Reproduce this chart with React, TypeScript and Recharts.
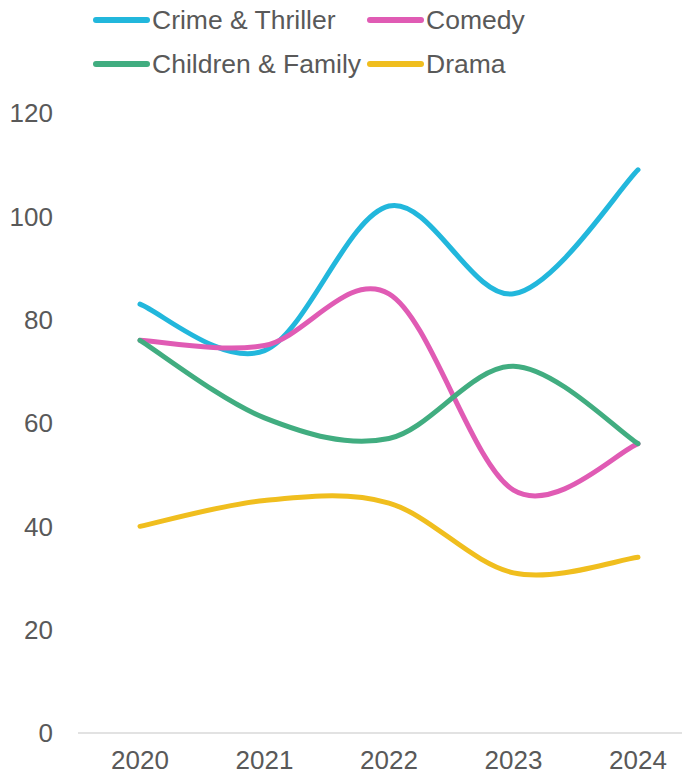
import React from "react";
import { LineChart, Line, XAxis, YAxis, Legend } from "recharts";

const years = ["2020", "2021", "2022", "2023", "2024"];
const crimeThriller = [83, 74, 102, 85, 109];
const comedy = [76, 75, 85, 47, 56];
const childrenFamily = [76, 61, 57, 71, 56];
const drama = [40, 45, 44.5, 31, 34];
const yTicks = [0, 20, 40, 60, 80, 100, 120];

const series = [
  { key: "crime", name: "Crime & Thriller", color: "#22B7DC", values: crimeThriller },
  { key: "comedy", name: "Comedy", color: "#E05BB4", values: comedy },
  { key: "children", name: "Children & Family", color: "#41AD80", values: childrenFamily },
  { key: "drama", name: "Drama", color: "#F0BE1E", values: drama },
];

const data = years.map((year, i) => {
  const row: Record<string, string | number> = { year };
  series.forEach((s) => (row[s.key] = s.values[i]));
  return row;
});

const FONT = "'Liberation Sans', Arial, sans-serif";
const TEXT = "#595959";

// Catmull-Rom style smoothing, close to what spreadsheet "smoothed lines" draw
const smoothCurve = (context: any) => {
  let pts: number[][] = [];
  return {
    areaStart() {},
    areaEnd() {},
    lineStart() {
      pts = [];
    },
    point(x: number, y: number) {
      pts.push([+x, +y]);
    },
    lineEnd() {
      const n = pts.length;
      if (!n) return;
      context.moveTo(pts[0][0], pts[0][1]);
      for (let i = 0; i < n - 1; i++) {
        const p0 = pts[Math.max(i - 1, 0)];
        const p1 = pts[i];
        const p2 = pts[i + 1];
        const p3 = pts[Math.min(i + 2, n - 1)];
        context.bezierCurveTo(
          p1[0] + (p2[0] - p0[0]) / 6,
          p1[1] + (p2[1] - p0[1]) / 6,
          p2[0] - (p3[0] - p1[0]) / 6,
          p2[1] - (p3[1] - p1[1]) / 6,
          p2[0],
          p2[1]
        );
      }
    },
  };
};

const LegendContent = () => (
  <div
    style={{
      height: 88,
      width: 600,
      display: "grid",
      gridTemplateColumns: "274px 300px",
      gridAutoRows: "44px",
      paddingLeft: 93,
      fontFamily: FONT,
      fontSize: 26.5,
      color: TEXT,
    }}
  >
    {series.map((s) => (
      <div key={s.key} style={{ display: "flex", alignItems: "center", whiteSpace: "nowrap" }}>
        <span
          style={{
            display: "inline-block",
            width: 57,
            height: 6,
            borderRadius: 3,
            background: s.color,
            marginRight: 2,
          }}
        />
        <span>{s.name}</span>
      </div>
    ))}
  </div>
);

export default function App() {
  return (
    <div style={{ margin: -8, width: 690, height: 778, overflow: "hidden", background: "#fff" }}>
      <LineChart
        width={710}
        height={778}
        data={data}
        margin={{ top: 25, right: 10, left: 0, bottom: 0 }}
      >
        <Legend
          verticalAlign="top"
          align="left"
          wrapperStyle={{ top: -2, left: 0 }}
          content={<LegendContent />}
        />
        <XAxis
          dataKey="year"
          height={45}
          padding={{ left: 62, right: 62 }}
          tickLine={false}
          axisLine={{ stroke: "#D9D9D9", strokeWidth: 1.5 }}
          tickMargin={12}
          tick={{ fill: TEXT, fontSize: 26, fontFamily: FONT }}
        />
        <YAxis
          width={78}
          domain={[0, 120]}
          ticks={yTicks}
          axisLine={false}
          tickLine={false}
          tickMargin={19}
          tick={{ fill: TEXT, fontSize: 26, fontFamily: FONT }}
        />
        {series.map((s) => (
          <Line
            key={s.key}
            dataKey={s.key}
            name={s.name}
            type={smoothCurve as any}
            stroke={s.color}
            strokeWidth={5}
            strokeLinecap="round"
            dot={false}
            activeDot={false}
            isAnimationActive={false}
          />
        ))}
      </LineChart>
    </div>
  );
}
